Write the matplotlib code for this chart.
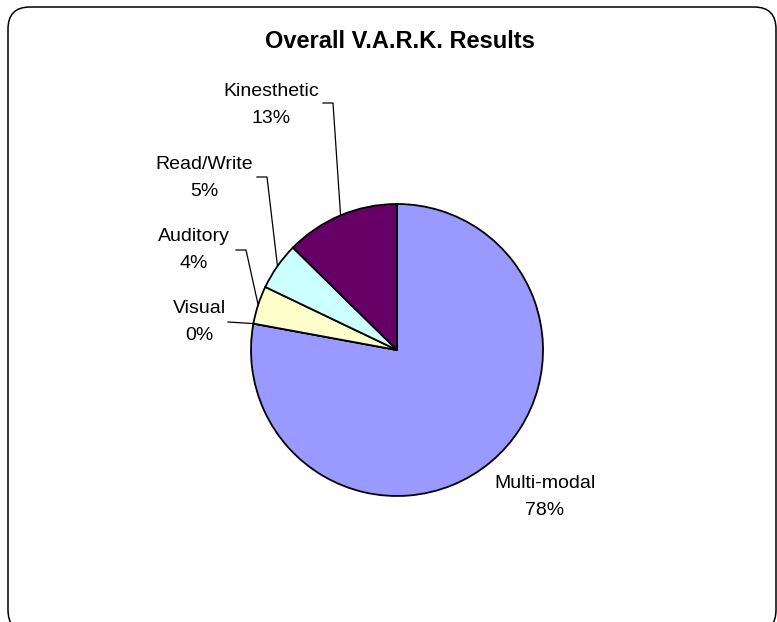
import numpy as np
import matplotlib
matplotlib.use("Agg")
import matplotlib.pyplot as plt
from matplotlib.patches import FancyBboxPatch

plt.rcParams['font.family'] = ['Liberation Sans', 'DejaVu Sans']

# data (student counts)
categories = ["Multi-modal", "Visual", "Auditory", "Read/Write", "Kinesthetic"]
counts = [74, 0, 4, 5, 12]
colors = ["#9999FF", "#993366", "#FFFFCC", "#CCFFFF", "#660066"]

W, H = 777, 622
fig = plt.figure(figsize=(W / 100, H / 100), dpi=100)
ax = fig.add_axes([0, 0, 1, 1])

# rounded chart frame (pixel coords, y up)
frame = FancyBboxPatch((8, -10), 768, 625, boxstyle="round,pad=0,rounding_size=22",
                       fc="white", ec="black", lw=1.1, zorder=0)
ax.add_patch(frame)

cx, cy, r = 397, H - 350, 146
ax.pie(counts, colors=colors, startangle=90, counterclock=False,
       center=(cx, cy), radius=r,
       wedgeprops=dict(edgecolor="black", linewidth=1.3))
ax.set_xlim(0, W)
ax.set_ylim(0, H)
ax.set_aspect("equal")
ax.axis("off")

ax.text(400, H - 42, "Overall V.A.R.K. Results", ha="center", va="center",
        fontsize=17, fontweight="bold")

# label placement (pixel coords from top-left) and leader elbow
label_pos = {
    "Multi-modal": (545, 497),
    "Visual": (199, 322),
    "Auditory": (194, 250),
    "Read/Write": (204, 178),
    "Kinesthetic": (271, 105),
}
leader = {
    "Visual": [(228, 322)],
    "Auditory": [(236, 250), (246, 250)],
    "Read/Write": [(257, 177), (267, 177)],
    "Kinesthetic": [(323, 103), (333, 103)],
}

total = sum(counts)
cum = np.cumsum([0] + counts)
for i, name in enumerate(categories):
    pct = 100 * counts[i] / total
    x, y = label_pos[name]
    ax.text(x, H - y, f"{name}\n{pct:.0f}%", ha="center", va="center",
            fontsize=14, linespacing=1.8)
    if name in leader:
        frac = (cum[i] + counts[i] / 2) / total
        ang = np.deg2rad(90 - 360 * frac)
        ex, ey = cx + r * np.cos(ang), cy + r * np.sin(ang)
        pts = [(px, H - py) for px, py in leader[name]] + [(ex, ey)]
        xs, ys = zip(*pts)
        ax.plot(xs, ys, color="black", lw=0.9, zorder=5)

fig.savefig("out.png", dpi=100)
